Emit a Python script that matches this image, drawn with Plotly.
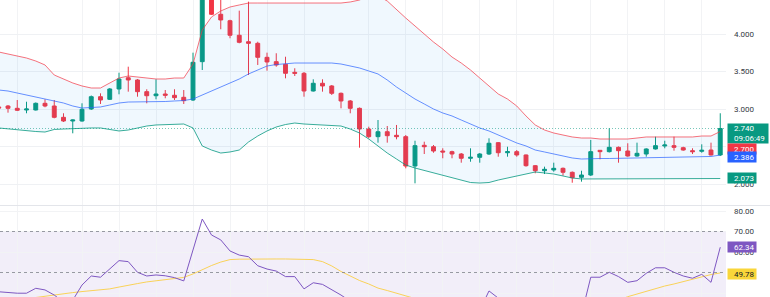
import plotly.graph_objects as go

# ---------------- data ----------------
bar_index = list(range(-1, 78))

opens = [3.027, 3.040, 3.009, 2.987, 2.987, 3.076, 3.040, 2.889, 2.840, 2.840,
         3.000, 3.164, 3.129, 3.267, 3.417, 3.387, 3.231, 3.177, 3.200, 3.183,
         3.156, 3.120, 3.631, 4.700, 4.263, 4.177, 3.983, 3.897, 3.876, 3.689,
         3.631, 3.596, 3.489, 3.476, 3.240, 3.343, 3.307, 3.209, 3.107, 3.009,
         2.733, 2.631, 2.697, 2.649, 2.631, 2.240, 2.516, 2.497, 2.440, 2.431,
         2.400, 2.343, 2.356, 2.400, 2.551, 2.417, 2.431, 2.387, 2.244, 2.177,
         2.187, 2.209, 2.156, 2.089, 2.120, 2.449, 2.431, 2.489, 2.440, 2.373,
         2.400, 2.467, 2.507, 2.511, 2.484, 2.444, 2.436, 2.453, 2.387]
highs = [3.040, 3.053, 3.120, 3.097, 3.087, 3.129, 3.120, 2.943, 2.860, 3.076,
         3.180, 3.209, 3.280, 3.484, 3.564, 3.400, 3.263, 3.396, 3.253, 3.263,
         3.253, 3.751, 4.780, 4.760, 4.520, 4.190, 4.311, 4.431, 3.897, 3.751,
         3.743, 3.697, 3.543, 3.493, 3.396, 3.396, 3.320, 3.220, 3.120, 3.020,
         2.764, 2.853, 2.773, 2.787, 2.653, 2.577, 2.564, 2.520, 2.476, 2.444,
         2.413, 2.476, 2.413, 2.609, 2.560, 2.497, 2.453, 2.393, 2.253, 2.231,
         2.284, 2.220, 2.167, 2.177, 2.587, 2.453, 2.743, 2.500, 2.543, 2.551,
         2.476, 2.631, 2.577, 2.631, 2.497, 2.476, 2.529, 2.551, 2.943]
lows = [3.000, 2.951, 2.973, 2.943, 2.980, 3.023, 2.876, 2.827, 2.676, 2.831,
        2.987, 3.067, 3.120, 3.196, 3.231, 3.164, 3.076, 3.129, 3.143, 3.120,
        3.067, 3.107, 3.520, 4.253, 4.063, 3.943, 3.876, 3.453, 3.587, 3.511,
        3.564, 3.409, 3.440, 3.164, 3.233, 3.231, 3.187, 3.009, 2.943, 2.484,
        2.609, 2.551, 2.551, 2.596, 2.209, 2.009, 2.400, 2.417, 2.343, 2.343,
        2.284, 2.297, 2.284, 2.387, 2.364, 2.364, 2.364, 2.231, 2.143, 2.133,
        2.164, 2.111, 2.017, 2.031, 2.107, 2.329, 2.420, 2.284, 2.364, 2.364,
        2.364, 2.460, 2.476, 2.444, 2.444, 2.400, 2.417, 2.380, 2.373]
closes = [3.013, 3.009, 2.983, 3.000, 3.076, 3.040, 2.889, 2.840, 2.853, 2.996,
          3.164, 3.120, 3.267, 3.400, 3.387, 3.231, 3.177, 3.200, 3.183, 3.151,
          3.111, 3.623, 4.700, 4.263, 4.187, 3.983, 3.889, 3.876, 3.689, 3.627,
          3.587, 3.476, 3.476, 3.240, 3.343, 3.307, 3.209, 3.107, 3.009, 2.733,
          2.631, 2.697, 2.644, 2.631, 2.240, 2.511, 2.497, 2.440, 2.427, 2.400,
          2.343, 2.356, 2.400, 2.543, 2.417, 2.431, 2.387, 2.244, 2.177, 2.196,
          2.209, 2.156, 2.084, 2.120, 2.431, 2.431, 2.489, 2.444, 2.373, 2.409,
          2.467, 2.511, 2.520, 2.489, 2.453, 2.431, 2.449, 2.387, 2.740]

bb_upper = [3.760, 3.733, 3.707, 3.680, 3.640, 3.587, 3.453, 3.400, 3.347, 3.307,
            3.280, 3.280, 3.347, 3.413, 3.440, 3.427, 3.413, 3.400, 3.400, 3.413,
            3.413, 3.600, 4.053, 4.227, 4.307, 4.360, 4.387, 4.413, 4.413, 4.413,
            4.413, 4.413, 4.413, 4.413, 4.413, 4.413, 4.413, 4.413, 4.427, 4.453,
            4.507, 4.507, 4.440, 4.320, 4.213, 4.107, 4.000, 3.893, 3.800, 3.693,
            3.613, 3.520, 3.413, 3.307, 3.200, 3.133, 3.040, 2.907, 2.787, 2.720,
            2.680, 2.653, 2.627, 2.613, 2.613, 2.600, 2.600, 2.600, 2.600, 2.613,
            2.627, 2.627, 2.627, 2.627, 2.627, 2.627, 2.640, 2.640, 2.700]
bb_basis = [3.253, 3.240, 3.213, 3.187, 3.160, 3.133, 3.107, 3.080, 3.040, 3.013,
            3.020, 3.027, 3.053, 3.080, 3.093, 3.093, 3.093, 3.093, 3.100, 3.107,
            3.113, 3.133, 3.187, 3.240, 3.293, 3.347, 3.400, 3.467, 3.520, 3.573,
            3.593, 3.607, 3.613, 3.613, 3.613, 3.613, 3.613, 3.600, 3.573, 3.547,
            3.507, 3.467, 3.387, 3.293, 3.213, 3.133, 3.067, 3.000, 2.947, 2.907,
            2.853, 2.800, 2.747, 2.707, 2.653, 2.607, 2.547, 2.507, 2.453, 2.427,
            2.400, 2.373, 2.347, 2.333, 2.340, 2.340, 2.340, 2.343, 2.344, 2.347,
            2.347, 2.349, 2.352, 2.355, 2.357, 2.360, 2.364, 2.367, 2.386]
bb_lower = [2.747, 2.733, 2.720, 2.707, 2.700, 2.693, 2.727, 2.733, 2.740, 2.747,
            2.747, 2.747, 2.727, 2.707, 2.720, 2.747, 2.773, 2.787, 2.793, 2.800,
            2.800, 2.747, 2.507, 2.453, 2.413, 2.427, 2.453, 2.560, 2.640, 2.707,
            2.760, 2.793, 2.813, 2.800, 2.793, 2.787, 2.787, 2.773, 2.733, 2.680,
            2.600, 2.507, 2.413, 2.333, 2.253, 2.213, 2.180, 2.147, 2.113, 2.080,
            2.053, 2.020, 2.013, 2.020, 2.053, 2.080, 2.113, 2.140, 2.160, 2.147,
            2.133, 2.107, 2.080, 2.067, 2.067, 2.067, 2.067, 2.067, 2.073, 2.073,
            2.073, 2.073, 2.073, 2.073, 2.073, 2.073, 2.073, 2.073, 2.073]

rsi = [40.6, 40.2, 39.9, 39.9, 42.3, 41.5, 39.0, 35.5, 36.5, 43.9,
       48.3, 47.7, 52.0, 55.8, 55.3, 50.1, 48.3, 48.8, 48.4, 47.5,
       45.9, 61.0, 76.1, 68.3, 65.9, 60.5, 58.5, 57.7, 53.3, 51.7,
       50.7, 48.0, 48.0, 42.0, 45.0, 44.2, 41.8, 39.0, 36.0, 30.5,
       29.0, 31.5, 31.0, 30.5, 24.5, 33.0, 32.5, 31.0, 30.5, 29.5,
       28.5, 29.5, 31.5, 41.0, 37.5, 36.5, 35.5, 31.0, 29.5, 30.5,
       31.5, 30.0, 28.0, 29.5, 47.7, 47.7, 50.1, 48.0, 45.2, 46.0,
       49.6, 52.3, 52.3, 50.1, 48.3, 47.2, 49.1, 45.2, 62.34]
rsi_ma = [35.0, 35.5, 36.0, 36.5, 37.8, 38.4, 39.3, 39.7, 40.2, 40.7,
          41.2, 41.6, 42.0, 42.9, 43.9, 44.6, 45.4, 45.9, 46.3, 46.8,
          47.6, 49.3, 51.5, 53.4, 55.1, 56.3, 56.5, 56.6, 56.6, 56.6,
          56.6, 56.6, 56.6, 56.5, 56.3, 55.3, 53.2, 50.5, 48.3, 46.1,
          44.4, 42.4, 41.2, 39.8, 38.5, 37.2, 36.0, 35.0, 34.0, 33.0,
          32.2, 31.5, 31.0, 31.0, 31.0, 31.2, 31.4, 31.3, 31.0, 30.8,
          30.8, 30.8, 30.6, 30.5, 32.2, 33.6, 35.0, 36.6, 38.2, 39.5,
          40.7, 42.2, 43.4, 44.4, 45.6, 46.8, 48.0, 49.0, 49.78]

countdown = "09:06:49"
price_ticks = [2.0, 2.5, 3.0, 3.5, 4.0]
price_tick_text = ["2.000", "", "3.000", "3.500", "4.000"]   # 2.500 is covered by the price tags
rsi_ticks = [40, 50, 60, 70, 80]
rsi_tick_text = ["40.00", "", "60.00", "70.00", "80.00"]     # 50.00 is covered by the MA tag
rsi_levels = [70, 50, 30]
time_grid = [1, 8, 12, 16, 20, 24, 28, 32, 39, 43, 47, 51, 55, 59, 63, 67, 71, 75]

# ---------------- styling ----------------
GREEN = "#089981"
RED = "#F23645"
BLUE = "#2962FF"
PURPLE = "#7E57C2"
FONT = "Roboto"
TICKC = "#363a45"

W, H = 770, 297
PLOT_R = 726
xdom = [0, PLOT_R / W]
main_dom = [92 / H, 1.0]
rsi_dom = [0.0, 91 / H]

fig = go.Figure()

fig.add_trace(go.Scatter(x=bar_index, y=bb_upper, mode="lines",
                         line=dict(color="rgba(242,54,69,0.7)", width=1),
                         hoverinfo="skip", xaxis="x", yaxis="y"))
fig.add_trace(go.Scatter(x=bar_index, y=bb_lower, mode="lines",
                         line=dict(color="rgba(8,153,129,0.8)", width=1),
                         fill="tonexty", fillcolor="rgba(33,150,243,0.065)",
                         hoverinfo="skip", xaxis="x", yaxis="y"))
fig.add_trace(go.Scatter(x=bar_index, y=bb_basis, mode="lines",
                         line=dict(color="rgba(41,98,255,0.7)", width=1),
                         hoverinfo="skip", xaxis="x", yaxis="y"))
fig.add_trace(go.Candlestick(x=bar_index, open=opens, high=highs, low=lows, close=closes,
                             increasing=dict(line=dict(color=GREEN, width=1), fillcolor=GREEN),
                             decreasing=dict(line=dict(color=RED, width=1), fillcolor=RED),
                             whiskerwidth=0, xaxis="x", yaxis="y"))

fig.add_trace(go.Scatter(x=bar_index, y=rsi_ma, mode="lines",
                         line=dict(color="rgba(250,205,60,0.85)", width=1),
                         hoverinfo="skip", xaxis="x2", yaxis="y2"))
fig.add_trace(go.Scatter(x=bar_index, y=rsi, mode="lines",
                         line=dict(color=PURPLE, width=1),
                         hoverinfo="skip", xaxis="x2", yaxis="y2"))

xr = [-0.865, -0.865 + PLOT_R / 9.25]
common_x = dict(domain=xdom, range=xr, showticklabels=False, tickvals=time_grid,
                showgrid=True, gridcolor="#f2f3f5", gridwidth=1, zeroline=False,
                showline=False, ticks="", fixedrange=True)
tickfont = dict(family=FONT, size=8, color=TICKC)

fig.update_layout(
    width=W, height=H,
    margin=dict(l=0, r=0, t=0, b=0),
    paper_bgcolor="white", plot_bgcolor="white",
    showlegend=False, boxgap=0.4,
    xaxis=dict(anchor="y", rangeslider=dict(visible=False), **common_x),
    xaxis2=dict(anchor="y2", matches="x", **common_x),
    yaxis=dict(domain=main_dom, range=[1.72, 4.4533], side="right", anchor="x",
               tickvals=price_ticks, ticktext=price_tick_text, showgrid=True,
               gridcolor="#eff1f4", zeroline=False, ticks="", ticklabelstandoff=7,
               tickfont=tickfont, fixedrange=True),
    yaxis2=dict(domain=rsi_dom, range=[38.05, 82.44], side="right", anchor="x2",
                tickvals=rsi_ticks, ticktext=rsi_tick_text, showgrid=True,
                gridcolor="#f2f3f5", zeroline=False, ticks="", ticklabelstandoff=7,
                tickfont=tickfont, fixedrange=True),
)

shapes = [
    dict(type="rect", xref="x2 domain", yref="y2", x0=0, x1=1,
         y0=min(rsi_levels), y1=max(rsi_levels),
         fillcolor="rgba(126,87,194,0.1)", line=dict(width=0), layer="below"),
    dict(type="line", xref="x domain", yref="y", x0=0, x1=1,
         y0=closes[-1], y1=closes[-1],
         line=dict(color="rgba(8,153,129,0.55)", width=1, dash="1px,2px")),
    dict(type="line", xref="paper", yref="paper", x0=0, x1=1,
         y0=rsi_dom[1] + 0.5 / H, y1=rsi_dom[1] + 0.5 / H,
         line=dict(color="#e3e5ea", width=1)),
]
for lvl in rsi_levels:
    shapes.append(dict(type="line", xref="x2 domain", yref="y2", x0=0, x1=1,
                       y0=lvl, y1=lvl,
                       line=dict(color="rgba(120,123,134,0.75)", width=1, dash="3px,3px")))
fig.update_layout(shapes=shapes)

NB = "\u00a0"


def tag(yref, yval, text, bg, fg="white", w=28, h=10, yanchor="middle", yshift=0):
    return dict(xref="paper", x=xdom[1], xanchor="left", xshift=1,
                yref=yref, y=yval, yanchor=yanchor, yshift=yshift,
                text=text, showarrow=False, bgcolor=bg, borderpad=0,
                width=w, height=h, align="left",
                font=dict(family=FONT, size=8, color=fg))


annotations = [
    tag("y", closes[-1], f"{NB*3}{closes[-1]:.3f}<br>{NB*3}{countdown}", GREEN,
        w=40, h=19, yanchor="top", yshift=5.5),
    tag("y", bb_upper[-1], f"{NB*3}{bb_upper[-1]:.3f}", RED, yanchor="top", yshift=-11),
    tag("y", bb_basis[-1], f"{NB*3}{bb_basis[-1]:.3f}", BLUE, yshift=-2),
    tag("y", bb_lower[-1], f"{NB*3}{bb_lower[-1]:.3f}", GREEN, yshift=0.5),
    tag("y2", rsi[-1], f"{NB*3}{rsi[-1]:.2f}", PURPLE),
    tag("y2", rsi_ma[-1], f"{NB*3}{rsi_ma[-1]:.2f}", "#F9D63A", fg="#131722", yshift=-0.6),
]
fig.update_layout(annotations=annotations)

fig.write_html("out.html")
